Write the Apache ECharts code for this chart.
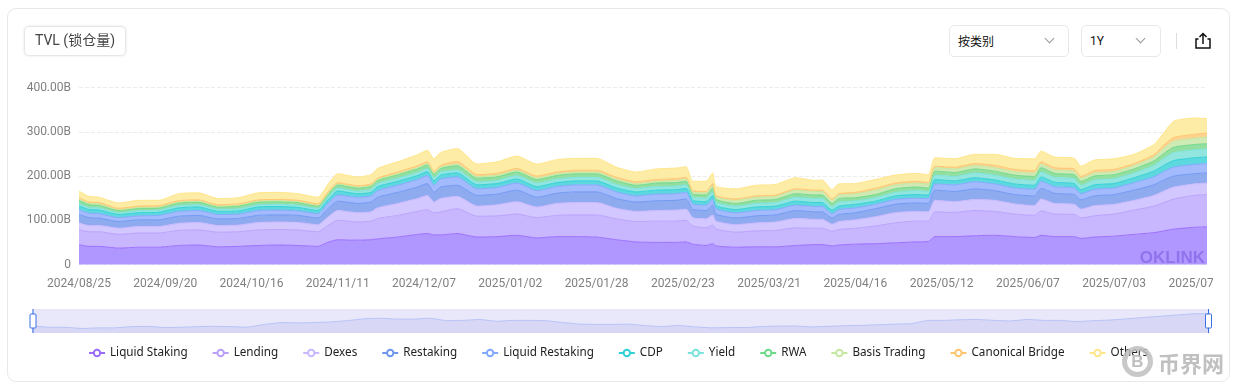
<!DOCTYPE html>
<html><head><meta charset="utf-8">
<script src="https://cdn.jsdelivr.net/npm/echarts@6/dist/echarts.min.js"></script>
<style>
html,body{margin:0;padding:0;background:#fff;width:1235px;height:390px;overflow:hidden;font-family:"Roboto","Noto Sans CJK SC",sans-serif}
#card{position:absolute;left:7px;top:8px;width:1221px;height:372px;border:1px solid #e8e8e8;border-radius:9px}
#chart{position:absolute;left:0;top:0;width:1213px;height:390px}
.box{position:absolute;box-sizing:border-box;background:#fff;font-size:12px;color:#111;line-height:28px}
#tvl{left:25px;top:27px;width:100px;height:28px;border-radius:4px;box-shadow:0 0 3px rgba(0,0,0,.28);font-size:14px;color:#444;text-align:center;line-height:27px}
#sel1{left:949px;top:25px;width:120px;height:32px;border:1px solid #e8e8e8;border-radius:5px;padding-left:8px;line-height:30px;font-family:"Noto Sans CJK SC"}
#sel2{left:1081px;top:25px;width:80px;height:32px;border:1px solid #e8e8e8;border-radius:5px;padding-left:8px;line-height:30px}
.chev{position:absolute;width:6px;height:6px;border-right:1px solid #999;border-bottom:1px solid #999;transform:rotate(45deg);top:9px}
#sep{position:absolute;left:1176px;top:33px;width:1px;height:16px;background:#ddd}
#share{position:absolute;left:1195px;top:32px}
#wm{position:absolute;left:1122px;top:346px;width:110px;height:34px;pointer-events:none}
#wm .c{position:absolute;left:0;top:0;width:21px;height:21px;border:5px solid rgba(190,190,190,.85);border-radius:50%;text-align:center;font:bold 17px/21px "Liberation Sans";color:#bfbfbf}
#wm .t{position:absolute;left:36px;top:1px;font:bold 22px/30px "Noto Sans CJK SC";color:#c0c0c0}
</style></head><body>
<div id="card"></div>
<div id="chart"></div>
<div id="tvl" class="box">TVL (锁仓量)</div>
<div id="sel1" class="box">按类别<span class="chev" style="left:96px"></span></div>
<div id="sel2" class="box">1Y<span class="chev" style="left:55px"></span></div>
<div id="sep"></div>
<svg id="share" width="16" height="17" viewBox="0 0 16 17" fill="none" stroke="#111" stroke-width="1.5"><path d="M8 12V1.5M4.5 5L8 1.5L11.5 5"/><path d="M3.5 7H1V16H15V7H12.5"/></svg>
<div id="wm"><div class="c">B</div><div class="t">币界网</div></div>
<script>
var days=[0,3,6,12,18,24,30,36,42,48,54,60,66,72,75,78,84,88,90,96,102,105,107,109,114,120,126,132,138,144,150,156,162,168,174,180,183,185,189,191,192,198,204,210,216,222,224,227,229,234,240,246,252,256,258,264,270,276,282,288,290,294,300,302,306,312,318,324,327,330,336,340];
var liquidStaking=[45,41,41,37,39,39,43,44,40,41,43,44,43,41,50,56,55,56,58,62,68,70,67,67,70,62,63,66,60,63,63,62,56,51,50,50,51,46,43,47,42,39,40,40,43,45,45,42,44,46,47,49,51,52,63,63,65,66,63,61,66,63,63,59,62,64,68,72,76,80,84,85];
var lending=[34,33,33,31,32,32,34,34,33,33,35,35,35,33,38,44,41,42,46,49,52,54,50,52,56,47,47,48,46,48,49,50,47,46,48,48,49,41,40,42,38,34,36,37,40,37,37,33,35,36,40,45,47,46,56,55,57,54,51,50,55,51,50,46,48,50,55,60,64,68,72,73];
var dexes=[15,14,14,14,15,15,16,17,15,15,17,17,17,16,19,22,21,21,24,27,29,32,24,30,28,23,25,28,24,27,28,28,24,23,24,25,25,19,20,23,18,17,18,19,21,20,20,16,18,19,21,23,22,21,26,24,25,25,23,22,27,24,23,20,23,22,22,24,26,27,26,26];
var restaking=[19,18,17,15,15,15,16,16,15,15,16,16,16,15,19,21,21,22,24,25,26,27,22,26,25,24,24,26,22,23,24,24,22,21,22,22,23,19,19,22,16,15,16,16,18,17,17,14,16,16,18,19,19,19,23,23,24,22,21,22,24,23,22,21,22,22,23,24,25,25,23,23];
var liquidRestaking=[11,10,10,9,9,10,11,11,10,10,11,11,10,10,12,14,14,14,15,16,17,18,16,18,19,15,15,16,15,15,16,16,15,14,15,15,15,12,12,14,12,12,12,12,12,12,12,10,11,11,10,11,11,11,14,15,16,15,15,15,16,15,15,14,15,15,17,18,19,20,21,21];
var cdp=[9,8,8,7,7,7,8,8,7,7,8,8,8,7,8,9,8,8,9,9,9,9,10,9,9,9,9,9,9,9,9,9,9,9,9,9,9,8,8,8,7,7,8,8,9,9,9,8,8,8,7,8,8,8,10,9,9,9,9,9,10,10,10,9,10,10,11,13,14,15,15,15];
var yieldVals=[5,5,5,4,5,5,5,5,5,5,5,5,5,5,6,7,6,7,7,7,7,7,7,7,7,7,7,8,8,8,8,8,8,8,8,8,8,7,8,9,8,8,8,8,9,9,9,8,9,8,8,8,9,8,10,10,11,11,11,11,11,11,11,10,11,11,11,13,16,18,18,18];
var rwa=[7,6,6,5,5,5,6,6,5,6,6,6,6,5,6,7,7,7,7,8,8,8,8,8,9,8,8,8,8,8,8,8,8,7,8,8,8,7,7,8,6,6,7,7,8,8,8,7,8,7,7,8,8,8,9,9,9,9,9,9,10,9,9,9,9,9,9,10,11,12,12,12];
var basisTrading=[3,3,3,2,2,2,2,2,2,2,2,2,2,2,2,2,2,2,2,2,3,3,3,3,4,4,4,4,4,4,4,4,4,4,4,5,5,5,5,6,6,7,7,7,8,8,8,7,8,9,10,9,9,9,8,8,8,8,8,8,8,8,8,7,7,7,8,9,12,14,14,15];
var canonicalBridge=[3,3,3,3,3,3,3,3,3,3,3,3,3,3,3,3,3,3,3,4,4,4,4,4,6,4,4,4,4,4,4,4,4,4,4,4,4,3,3,4,3,3,3,3,3,3,3,3,3,3,4,4,4,3,3,4,4,5,5,5,5,5,5,4,5,5,4,5,7,8,9,9];
var others=[15,13,12,12,13,12,16,16,14,14,16,16,15,15,18,20,20,21,22,23,25,26,28,29,29,24,26,28,27,28,27,27,23,22,24,24,24,21,23,24,21,23,24,24,25,22,23,21,22,20,20,18,18,18,19,19,21,25,25,27,24,24,24,23,24,24,21,23,28,37,37,33];
var dateLabels=['2024/08/25','2024/09/20','2024/10/16','2024/11/11','2024/12/07','2025/01/02','2025/01/28','2025/02/23','2025/03/21','2025/04/16','2025/05/12','2025/06/07','2025/07/03','2025/07/29'];
var yLabels=['0','100.00B','200.00B','300.00B','400.00B'];
var names=['Liquid Staking','Lending','Dexes','Restaking','Liquid Restaking','CDP','Yield','RWA','Basis Trading','Canonical Bridge','Others'];
var values=[liquidStaking,lending,dexes,restaking,liquidRestaking,cdp,yieldVals,rwa,basisTrading,canonicalBridge,others];
var lineColors=['#9b6dff','#b9a0fb','#c9b8ff','#6f97f2','#84a8ff','#2fd0d6','#7ce3dc','#6fd98a','#c4e8a0','#ffc56e','#ffe68a'];
var areaColors=['#b097ff','#c8b7ff','#d3c7ff','#8fabf0','#a3bafc','#5cd8de','#93e5df','#92df9f','#cfeab4','#ffd28f','#fdeca6'];
var categories=[];
for(var n=0;n<=days[days.length-1];n++){categories.push(String(n));}
var chart=echarts.init(document.getElementById('chart'),null,{renderer:'canvas'});
chart.setOption({
 animation:false,
 grid:{left:79,right:6,top:87.5,height:177,outerBoundsMode:'none'},
 legend:{left:83,top:342,data:names,itemWidth:16,itemHeight:8,itemGap:24,
   textStyle:{color:'#222',fontSize:11.7,fontFamily:'Noto Sans'}},
 xAxis:{type:'category',data:categories,boundaryGap:false,
   axisLine:{show:false},axisTick:{show:false},splitLine:{show:false},
   axisLabel:{interval:25,hideOverlap:false,margin:13,color:'#808080',fontSize:12,fontFamily:'Roboto',
     formatter:function(v,i){return dateLabels[i/26]||'';}}},
 yAxis:{type:'value',min:0,max:400,interval:100,
   axisLine:{show:false},axisTick:{show:false},
   splitLine:{lineStyle:{color:'#ececec',type:'dashed'}},
   axisLabel:{margin:8,color:'#808080',fontSize:12,fontFamily:'Roboto',
     formatter:function(v){return yLabels[v/100];}}},
 dataZoom:[{type:'slider',xAxisIndex:0,start:0,end:100,left:29.5,right:6,top:309,height:24,filterMode:'none',
   showDetail:false,brushSelect:false,moveHandleSize:0,borderColor:'transparent',
   backgroundColor:'#e9e7fa',fillerColor:'rgba(0,0,0,0)',
   dataBackground:{lineStyle:{color:'#b8c4f6',width:1},areaStyle:{color:'#d8d8f6',opacity:1}},
   selectedDataBackground:{lineStyle:{color:'#b8c4f6',width:1},areaStyle:{color:'#d8d8f6',opacity:1}},
   handleIcon:'path://M3,0V5M1,5H5Q6,5 6,6V18Q6,19 5,19H1Q0,19 0,18V6Q0,5 1,5ZM3,19V24',
   handleSize:'100%',handleStyle:{color:'#fff',borderColor:'#3a6fe6',borderWidth:1},
   emphasis:{handleStyle:{borderColor:'#3a6fe6'}}}],
 graphic:[{type:'text',right:8,top:250,silent:true,z:50,
   style:{text:'OKLINK',font:'900 17px "Liberation Sans"',fill:'rgba(125,90,225,0.6)'}}],
 series:names.map(function(n,i){return {
   name:n,type:'line',stack:'tvl',smooth:0.2,symbol:'emptyCircle',symbolSize:8,showSymbol:false,
   lineStyle:{width:1,color:lineColors[i]},itemStyle:{color:lineColors[i],borderWidth:2},
   areaStyle:{color:areaColors[i],opacity:1},
   data:days.map(function(d,k){return [d,values[i][k]];})
 };})
});
</script>
</body></html>
